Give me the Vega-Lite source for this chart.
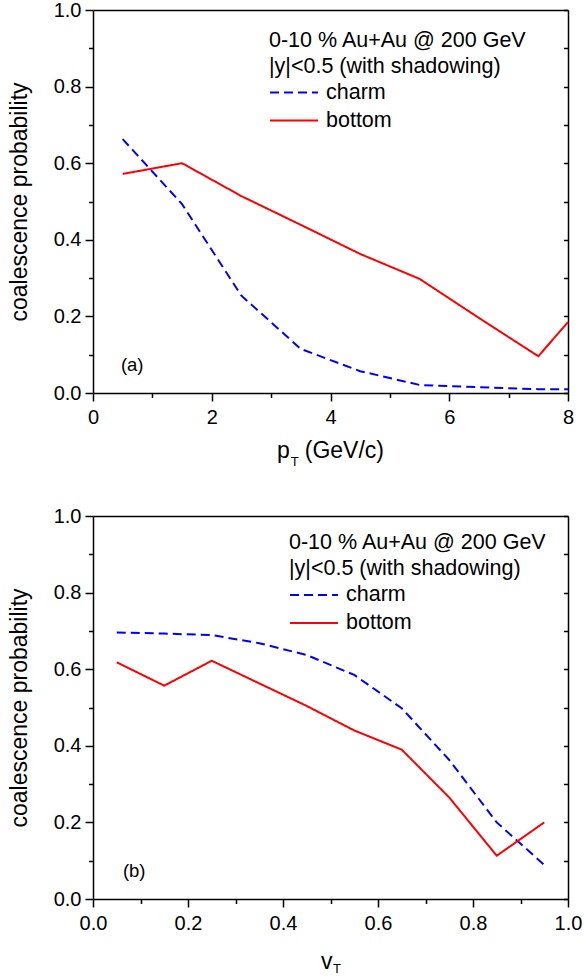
{
  "$schema": "https://vega.github.io/schema/vega-lite/v6.json",
  "background": "white",
  "padding": {"left": 8, "top": 0, "right": 5, "bottom": 0},
  "config": {
    "view": {"stroke": null},
    "font": "Liberation Sans",
    "axis": {
      "grid": false,
      "domainColor": "black",
      "domainWidth": 1.5,
      "tickColor": "black",
      "tickWidth": 1.5,
      "labelColor": "black",
      "labelFont": "Liberation Sans",
      "labelFontSize": 20,
      "titleFont": "Liberation Sans",
      "titleFontSize": 23,
      "titleFontWeight": "normal",
      "titleColor": "black"
    },
    "legend": {
      "labelFont": "Liberation Sans",
      "labelFontSize": 21.5,
      "labelColor": "black",
      "titleFont": "Liberation Sans",
      "titleFontSize": 21.5,
      "titleFontWeight": "normal",
      "titleColor": "black",
      "titleLineHeight": 26,
      "titleLimit": 500,
      "labelLimit": 300,
      "titlePadding": 5,
      "rowPadding": 6,
      "clipHeight": 21,
      "symbolType": "stroke",
      "symbolSize": 2304,
      "symbolStrokeWidth": 2,
      "labelOffset": 7,
      "padding": 0
    }
  },
  "resolve": {
    "scale": {"color": "independent", "strokeDash": "independent"},
    "legend": {"color": "independent", "strokeDash": "independent"}
  },
  "bounds": "flush",
  "spacing": 123,
  "vconcat": [
    {
      "width": 475,
      "height": 383,
      "resolve": {"axis": {"x": "independent", "y": "independent"}},
      "layer": [
        {
          "data": {"values": [
            {"pt": 0.5, "prob": 0.663, "series": "charm"},
            {"pt": 1.5, "prob": 0.493, "series": "charm"},
            {"pt": 2.5, "prob": 0.254, "series": "charm"},
            {"pt": 3.5, "prob": 0.115, "series": "charm"},
            {"pt": 4.5, "prob": 0.057, "series": "charm"},
            {"pt": 5.5, "prob": 0.021, "series": "charm"},
            {"pt": 6.5, "prob": 0.015, "series": "charm"},
            {"pt": 7.5, "prob": 0.01, "series": "charm"},
            {"pt": 8.0, "prob": 0.01, "series": "charm"},
            {"pt": 0.5, "prob": 0.572, "series": "bottom"},
            {"pt": 1.5, "prob": 0.600, "series": "bottom"},
            {"pt": 2.5, "prob": 0.514, "series": "bottom"},
            {"pt": 3.5, "prob": 0.439, "series": "bottom"},
            {"pt": 4.5, "prob": 0.363, "series": "bottom"},
            {"pt": 5.5, "prob": 0.298, "series": "bottom"},
            {"pt": 6.5, "prob": 0.196, "series": "bottom"},
            {"pt": 7.5, "prob": 0.096, "series": "bottom"},
            {"pt": 8.0, "prob": 0.185, "series": "bottom"}
          ]},
          "mark": {"type": "line", "strokeWidth": 2},
          "encoding": {
            "x": {
              "field": "pt", "type": "quantitative",
              "scale": {"domain": [0, 8], "nice": false, "zero": false},
              "axis": {
                "orient": "bottom",
                "values": [0, 1, 2, 3, 4, 5, 6, 7, 8],
                "labelExpr": "datum.value % 2 === 0 ? datum.label : ''",
                "tickSize": {"condition": {"test": "datum.value % 2 === 0", "value": 8}, "value": 4.5},
                "labelPadding": 6,
                "labelFlush": false,
                "title": null
              }
            },
            "y": {
              "field": "prob", "type": "quantitative",
              "scale": {"domain": [0, 1], "nice": false},
              "axis": {
                "orient": "left",
                "values": [0, 0.1, 0.2, 0.3, 0.4, 0.5, 0.6, 0.7, 0.8, 0.9, 1.0],
                "labelExpr": "round(datum.value*10) % 2 === 0 ? format(datum.value, '.1f') : ''",
                "tickSize": {"condition": {"test": "round(datum.value*10) % 2 === 0", "value": 8}, "value": 4.5},
                "labelPadding": 4,
                "labelFlush": false,
                "title": "coalescence probability",
                "titlePadding": 22
              }
            },
            "color": {
              "field": "series", "type": "nominal",
              "scale": {"domain": ["charm", "bottom"], "range": ["#0000ff", "#ff0000"]},
              "legend": {
                "orient": "none", "legendX": 176, "legendY": 19.5,
                "title": ["0-10 % Au+Au @ 200 GeV", "|y|<0.5 (with shadowing)"]
              }
            },
            "strokeDash": {
              "field": "series", "type": "nominal",
              "scale": {"domain": ["charm", "bottom"], "range": [[9, 5], [1, 0]]},
              "legend": {
                "orient": "none", "legendX": 176, "legendY": 19.5,
                "title": ["0-10 % Au+Au @ 200 GeV", "|y|<0.5 (with shadowing)"]
              }
            }
          }
        },
        {
          "data": {"values": [{}]},
          "mark": {"type": "text", "text": "(a)", "fontSize": 18.5, "align": "left", "baseline": "middle", "color": "black"},
          "encoding": {
            "x": {"datum": 0.47, "type": "quantitative", "axis": {"orient": "top", "ticks": false, "labels": false, "title": null}},
            "y": {"datum": 0.073, "type": "quantitative", "axis": {"orient": "right", "values": [0, 0.1, 0.2, 0.3, 0.4, 0.5, 0.6, 0.7, 0.8, 0.9, 1.0], "tickSize": -4.5, "labels": false, "title": null}}
          }
        },
        {
          "data": {"values": [{}]},
          "mark": {"type": "text", "text": "p", "fontSize": 23, "align": "right", "baseline": "alphabetic", "color": "black"},
          "encoding": {
            "x": {"datum": 3.313, "type": "quantitative", "axis": null},
            "y": {"datum": -0.169, "type": "quantitative", "axis": null}
          }
        },
        {
          "data": {"values": [{}]},
          "mark": {"type": "text", "text": "T", "fontSize": 13, "align": "left", "baseline": "alphabetic", "color": "black"},
          "encoding": {
            "x": {"datum": 3.33, "type": "quantitative", "axis": null},
            "y": {"datum": -0.19, "type": "quantitative", "axis": null}
          }
        },
        {
          "data": {"values": [{}]},
          "mark": {"type": "text", "text": "(GeV/c)", "fontSize": 23, "align": "left", "baseline": "alphabetic", "color": "black"},
          "encoding": {
            "x": {"datum": 3.566, "type": "quantitative", "axis": null},
            "y": {"datum": -0.169, "type": "quantitative", "axis": null}
          }
        }
      ]
    },
    {
      "width": 475,
      "height": 383,
      "resolve": {"axis": {"x": "independent", "y": "independent"}},
      "layer": [
        {
          "data": {"values": [
            {"vt": 0.05, "prob": 0.696, "series": "charm"},
            {"vt": 0.15, "prob": 0.693, "series": "charm"},
            {"vt": 0.25, "prob": 0.689, "series": "charm"},
            {"vt": 0.35, "prob": 0.668, "series": "charm"},
            {"vt": 0.45, "prob": 0.637, "series": "charm"},
            {"vt": 0.55, "prob": 0.585, "series": "charm"},
            {"vt": 0.65, "prob": 0.498, "series": "charm"},
            {"vt": 0.75, "prob": 0.363, "series": "charm"},
            {"vt": 0.85, "prob": 0.2, "series": "charm"},
            {"vt": 0.95, "prob": 0.089, "series": "charm"},
            {"vt": 0.05, "prob": 0.618, "series": "bottom"},
            {"vt": 0.15, "prob": 0.557, "series": "bottom"},
            {"vt": 0.25, "prob": 0.622, "series": "bottom"},
            {"vt": 0.35, "prob": 0.563, "series": "bottom"},
            {"vt": 0.45, "prob": 0.504, "series": "bottom"},
            {"vt": 0.55, "prob": 0.44, "series": "bottom"},
            {"vt": 0.65, "prob": 0.39, "series": "bottom"},
            {"vt": 0.75, "prob": 0.265, "series": "bottom"},
            {"vt": 0.85, "prob": 0.113, "series": "bottom"},
            {"vt": 0.95, "prob": 0.2, "series": "bottom"}
          ]},
          "mark": {"type": "line", "strokeWidth": 2},
          "encoding": {
            "x": {
              "field": "vt", "type": "quantitative",
              "scale": {"domain": [0, 1], "nice": false, "zero": false},
              "axis": {
                "orient": "bottom",
                "values": [0, 0.1, 0.2, 0.3, 0.4, 0.5, 0.6, 0.7, 0.8, 0.9, 1.0],
                "labelExpr": "round(datum.value*10) % 2 === 0 ? format(datum.value, '.1f') : ''",
                "tickSize": {"condition": {"test": "round(datum.value*10) % 2 === 0", "value": 8}, "value": 4.5},
                "labelPadding": 6,
                "labelFlush": false,
                "title": null
              }
            },
            "y": {
              "field": "prob", "type": "quantitative",
              "scale": {"domain": [0, 1], "nice": false},
              "axis": {
                "orient": "left",
                "values": [0, 0.1, 0.2, 0.3, 0.4, 0.5, 0.6, 0.7, 0.8, 0.9, 1.0],
                "labelExpr": "round(datum.value*10) % 2 === 0 ? format(datum.value, '.1f') : ''",
                "tickSize": {"condition": {"test": "round(datum.value*10) % 2 === 0", "value": 8}, "value": 4.5},
                "labelPadding": 4,
                "labelFlush": false,
                "title": "coalescence probability",
                "titlePadding": 22
              }
            },
            "color": {
              "field": "series", "type": "nominal",
              "scale": {"domain": ["charm", "bottom"], "range": ["#0000ff", "#ff0000"]},
              "legend": {
                "orient": "none", "legendX": 196, "legendY": 16,
                "title": ["0-10 % Au+Au @ 200 GeV", "|y|<0.5 (with shadowing)"]
              }
            },
            "strokeDash": {
              "field": "series", "type": "nominal",
              "scale": {"domain": ["charm", "bottom"], "range": [[9, 5], [1, 0]]},
              "legend": {
                "orient": "none", "legendX": 196, "legendY": 16,
                "title": ["0-10 % Au+Au @ 200 GeV", "|y|<0.5 (with shadowing)"]
              }
            }
          }
        },
        {
          "data": {"values": [{}]},
          "mark": {"type": "text", "text": "(b)", "fontSize": 18.5, "align": "left", "baseline": "middle", "color": "black"},
          "encoding": {
            "x": {"datum": 0.063, "type": "quantitative", "axis": {"orient": "top", "ticks": false, "labels": false, "title": null}},
            "y": {"datum": 0.072, "type": "quantitative", "axis": {"orient": "right", "values": [0, 0.1, 0.2, 0.3, 0.4, 0.5, 0.6, 0.7, 0.8, 0.9, 1.0], "tickSize": -4.5, "labels": false, "title": null}}
          }
        },
        {
          "data": {"values": [{}]},
          "mark": {"type": "text", "text": "v", "fontSize": 23, "align": "right", "baseline": "alphabetic", "color": "black"},
          "encoding": {
            "x": {"datum": 0.504, "type": "quantitative", "axis": null},
            "y": {"datum": -0.184, "type": "quantitative", "axis": null}
          }
        },
        {
          "data": {"values": [{}]},
          "mark": {"type": "text", "text": "T", "fontSize": 13, "align": "left", "baseline": "alphabetic", "color": "black"},
          "encoding": {
            "x": {"datum": 0.5055, "type": "quantitative", "axis": null},
            "y": {"datum": -0.192, "type": "quantitative", "axis": null}
          }
        }
      ]
    }
  ]
}
